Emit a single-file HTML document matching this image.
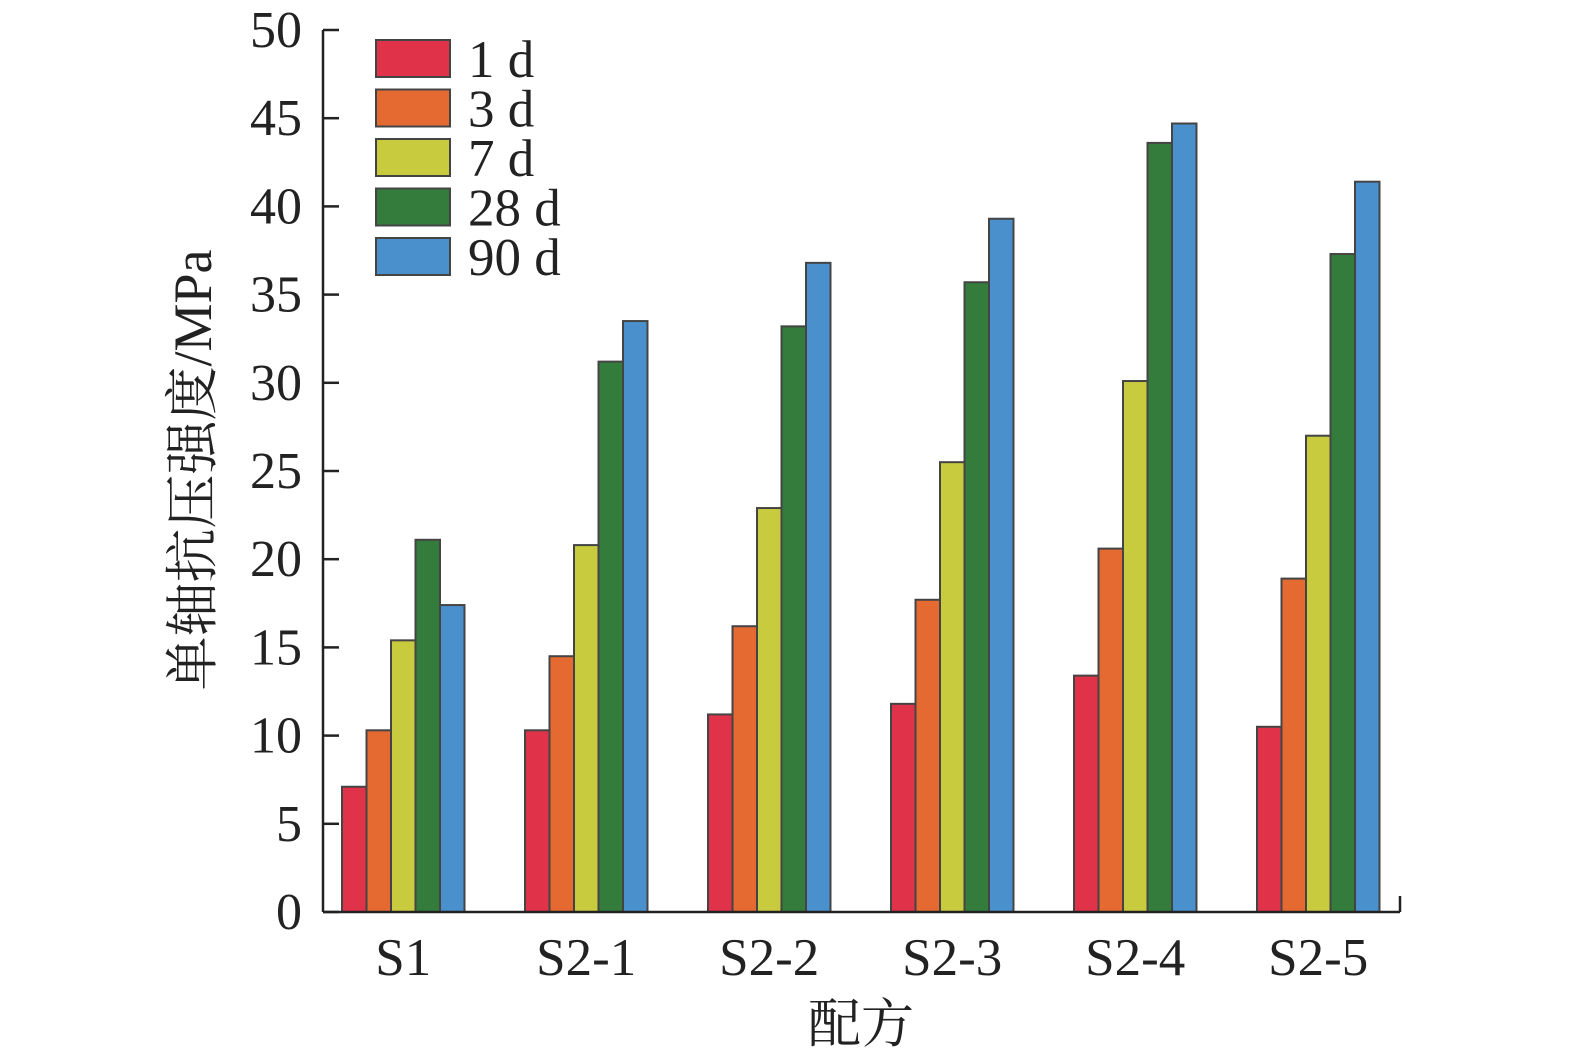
<!DOCTYPE html>
<html><head><meta charset="utf-8"><style>
html,body{margin:0;padding:0;background:#fff;}
svg{display:block;font-family:"Liberation Serif","Noto Serif CJK SC",serif;}
</style></head><body>
<svg id="chart" width="1575" height="1056" viewBox="0 0 1575 1056"></svg>
<script>
const categories = ["S1","S2-1","S2-2","S2-3","S2-4","S2-5"];
const seriesNames = ["1 d","3 d","7 d","28 d","90 d"];
const s1d = [7.1,10.3,11.2,11.8,13.4,10.5];
const s3d = [10.3,14.5,16.2,17.7,20.6,18.9];
const s7d = [15.4,20.8,22.9,25.5,30.1,27.0];
const s28d = [21.1,31.2,33.2,35.7,43.6,37.3];
const s90d = [17.4,33.5,36.8,39.3,44.7,41.4];
const yTicks = [0,5,10,15,20,25,30,35,40,45,50];
const series = [s1d,s3d,s7d,s28d,s90d];
const colors = ["#e0334a","#e46a32","#c9cb3e","#347c3b","#4a90cc"];

const NS="http://www.w3.org/2000/svg";
const svg=document.getElementById('chart');
const x0=323,x1=1400,yBase=912,yTop=30,yMax=50;
const y=v=>yBase-(v/yMax)*(yBase-yTop);
const groupStart=342,groupStep=183,barW=24.5;
const bx=(gi,si)=>groupStart+gi*groupStep+si*barW;
function mk(tag,attrs,parent){const e=document.createElementNS(NS,tag);for(const k in attrs)e.setAttribute(k,attrs[k]);(parent||svg).appendChild(e);return e;}

series.forEach((arr,si)=>{arr.forEach((v,gi)=>{
  const r=mk('rect',{x:bx(gi,si),y:y(v),width:barW,height:yBase-y(v),fill:colors[si],stroke:'#444',"stroke-width":2});
  
  
});});

const ya=mk('line',{x1:x0,y1:yTop,x2:x0,y2:yBase,stroke:'#222',"stroke-width":2.5});


const xa=mk('line',{x1:x0,y1:yBase,x2:x1,y2:yBase,stroke:'#222',"stroke-width":2.5});


mk('line',{x1:x1,y1:yBase,x2:x1,y2:yBase-16,stroke:'#222',"stroke-width":2.5});

yTicks.forEach(t=>{
  mk('line',{x1:x0,y1:y(t),x2:x0+16,y2:y(t),stroke:'#222',"stroke-width":2.5});
  const tx=mk('text',{x:302,y:y(t)+17,"text-anchor":"end","font-size":52,fill:'#222'});
  tx.textContent=t;
  
  
});
categories.forEach((c,gi)=>{
  const cx=bx(gi,0)+barW*2.5;
  const tx=mk('text',{x:cx,y:975,"text-anchor":"middle","font-size":53,fill:'#222'});
  tx.textContent=c;
  
  
});

const yt=mk('text',{x:0,y:0,transform:'translate(211,470) rotate(-90)',"text-anchor":"middle","font-size":54,fill:'#222'});
yt.textContent='单轴抗压强度/MPa';


const xt=mk('text',{x:861,y:1042,"text-anchor":"middle","font-size":53,fill:'#222'});
xt.textContent='配方';



seriesNames.forEach((n,i)=>{
  const top=40+i*49.5;
  const r=mk('rect',{x:376,y:top,width:74,height:37,fill:colors[i],stroke:'#444',"stroke-width":2});
  
  
  const t=mk('text',{x:468,y:top+37,"font-size":53,fill:'#222'});
  t.textContent=n;
  
  
});
</script>
</body></html>
